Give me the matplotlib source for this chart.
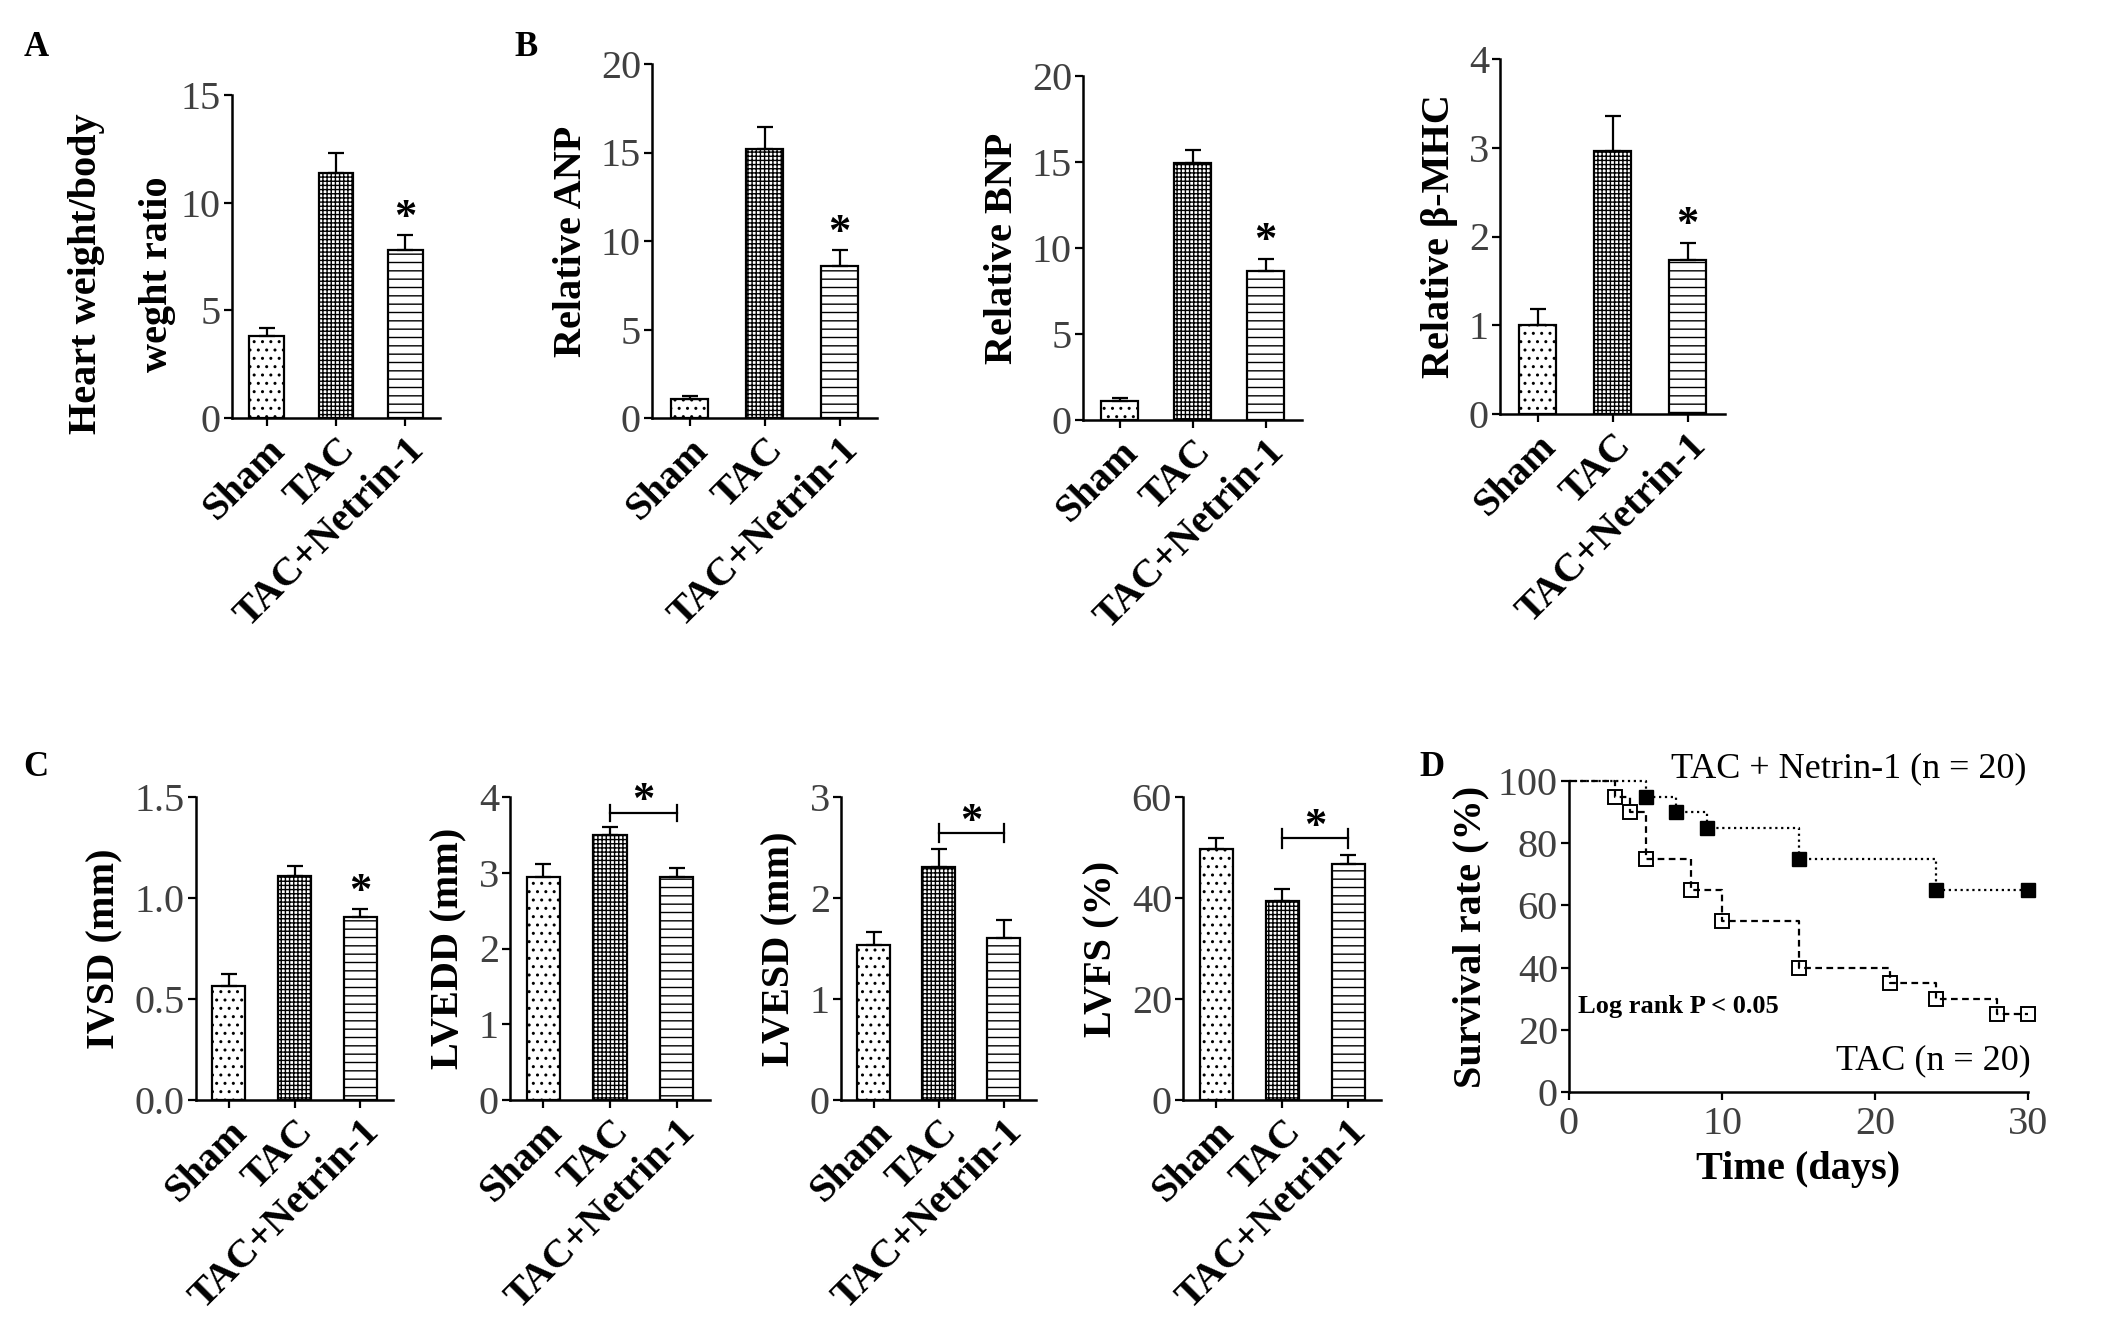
import matplotlib
matplotlib.use('Agg')
import matplotlib.pyplot as plt
import numpy as np

plt.rcParams['font.family'] = ['Liberation Serif', 'DejaVu Serif']
plt.rcParams['hatch.linewidth'] = 1.0

groups = ['Sham', 'TAC', 'TAC+Netrin-1']

# panel A
hw_mean = [3.83, 11.39, 7.81]
hw_sem = [0.33, 0.93, 0.69]
# panel B
anp_mean = [1.09, 15.17, 8.56]
anp_sem = [0.17, 1.26, 0.93]
bnp_mean = [1.10, 14.96, 8.69]
bnp_sem = [0.20, 0.76, 0.69]
mhc_mean = [1.00, 2.96, 1.73]
mhc_sem = [0.18, 0.40, 0.20]
# panel C
ivsd_mean = [0.564, 1.109, 0.904]
ivsd_sem = [0.059, 0.051, 0.041]
lvedd_mean = [2.94, 3.50, 2.94]
lvedd_sem = [0.18, 0.11, 0.12]
lvesd_mean = [1.53, 2.31, 1.60]
lvesd_sem = [0.13, 0.18, 0.18]
lvfs_mean = [49.8, 39.5, 46.8]
lvfs_sem = [2.0, 2.3, 1.7]
# panel D (Kaplan-Meier)
net_days = [0, 5, 7, 9, 15, 24, 30]
net_surv = [100, 95, 90, 85, 75, 65, 65]
tac_days = [0, 3, 4, 5, 8, 10, 15, 21, 24, 28, 30]
tac_surv = [100, 95, 90, 75, 65, 55, 40, 35, 30, 25, 25]

W, H = 2126, 1323
fig = plt.figure(figsize=(W / 100, H / 100), dpi=100)

hatches = ['..', '++++', '--']
TICK_FS = 29
XLAB_FS = 29
LAB_FS = 29


def px_axes(l, t, r, b):
    return fig.add_axes([l / W, 1 - b / H, (r - l) / W, (b - t) / H])


def style(ax):
    for s in ['top', 'right']:
        ax.spines[s].set_visible(False)
    for s in ['left', 'bottom']:
        ax.spines[s].set_linewidth(1.8)
    ax.tick_params(axis='both', direction='out', width=1.6, length=6)
    ax.tick_params(axis='y', labelsize=TICK_FS, labelcolor='0.25', pad=2)


def bars(ax, mean, sem, yticks, ylabel, ylabels=None, star=False, bracket=None, labelpad=8):
    x = np.arange(len(groups))
    for i in range(len(groups)):
        ax.bar(x[i], mean[i], width=0.5, color='white', edgecolor='black',
               linewidth=1.6, hatch=hatches[i], zorder=2)
    ax.errorbar(x, mean, yerr=[np.zeros(len(sem)), sem], fmt='none', ecolor='black',
                elinewidth=1.6, capsize=5.5, capthick=1.6, zorder=3)
    ax.set_xlim(-0.5, 2.5)
    ax.set_ylim(0, yticks[-1])
    ax.set_yticks(yticks)
    if ylabels is not None:
        ax.set_yticklabels(ylabels)
    ax.set_xticks(x)
    ax.set_xticklabels(groups, rotation=45, ha='right', rotation_mode='anchor',
                       fontsize=XLAB_FS, fontweight='bold')
    if ylabel:
        ax.set_ylabel(ylabel, fontsize=LAB_FS, fontweight='bold', labelpad=labelpad)
    style(ax)
    if star:
        ax.annotate('*', xy=(2, mean[2] + sem[2]), xytext=(0, -2), textcoords='offset points',
                    ha='center', va='bottom', fontsize=32, fontweight='bold',
                    annotation_clip=False)
    if bracket is not None:
        yb, tk = bracket
        ax.plot([1, 2], [yb, yb], color='black', lw=1.6, clip_on=False)
        for xx in [1, 2]:
            ax.plot([xx, xx], [yb - tk, yb + tk], color='black', lw=1.6, clip_on=False)
        ax.annotate('*', xy=(1.5, yb), xytext=(0, -6), textcoords='offset points',
                    ha='center', va='bottom', fontsize=32, fontweight='bold',
                    annotation_clip=False)


# A
axA = px_axes(232, 95, 440, 418)
bars(axA, hw_mean, hw_sem, [0, 5, 10, 15], None, star=True)
fig.text(87 / W, 1 - 274 / H, 'Heart weight/body', rotation=90, ha='center', va='center',
         fontsize=LAB_FS, fontweight='bold')
fig.text(158 / W, 1 - 274 / H, 'weght ratio', rotation=90, ha='center', va='center',
         fontsize=LAB_FS, fontweight='bold')

# B
axB1 = px_axes(652, 64, 877, 418)
bars(axB1, anp_mean, anp_sem, [0, 5, 10, 15, 20], 'Relative ANP', star=True)
axB2 = px_axes(1083, 76, 1302, 420)
bars(axB2, bnp_mean, bnp_sem, [0, 5, 10, 15, 20], 'Relative BNP', star=True)
axB3 = px_axes(1500, 59, 1725, 414)
bars(axB3, mhc_mean, mhc_sem, [0, 1, 2, 3, 4], 'Relative \u03b2-MHC', star=True)

# C
axC1 = px_axes(196, 797, 393, 1100)
bars(axC1, ivsd_mean, ivsd_sem, [0, 0.5, 1.0, 1.5], 'IVSD (mm)',
     ylabels=['0.0', '0.5', '1.0', '1.5'], star=True)
axC2 = px_axes(510, 797, 710, 1100)
bars(axC2, lvedd_mean, lvedd_sem, [0, 1, 2, 3, 4], 'LVEDD (mm)', bracket=(3.79, 0.11))
axC3 = px_axes(841, 797, 1036, 1100)
bars(axC3, lvesd_mean, lvesd_sem, [0, 1, 2, 3], 'LVESD (mm)', bracket=(2.64, 0.09))
axC4 = px_axes(1183, 797, 1381, 1100)
bars(axC4, lvfs_mean, lvfs_sem, [0, 20, 40, 60], 'LVFS (%)', bracket=(51.8, 1.8))

# D
axD = px_axes(1569, 781, 2028, 1092)
axD.step(net_days, net_surv, where='post', color='black', lw=1.6, ls=':', clip_on=False)
axD.plot(net_days[1:], net_surv[1:], ls='none', marker='s', ms=10, mfc='black',
         mec='black', clip_on=False, zorder=4)
axD.step(tac_days, tac_surv, where='post', color='black', lw=1.6, ls=(0, (3, 2)), clip_on=False)
axD.plot(tac_days[1:], tac_surv[1:], ls='none', marker='s', ms=10, mfc='none',
         mec='black', mew=1.4, clip_on=False, zorder=4)
axD.set_xlim(0, 30)
axD.set_ylim(0, 100)
axD.set_xticks([0, 10, 20, 30])
axD.set_yticks([0, 20, 40, 60, 80, 100])
style(axD)
axD.tick_params(axis='x', labelsize=TICK_FS, labelcolor='0.25', pad=4)
axD.set_xlabel('Time (days)', fontsize=LAB_FS, fontweight='bold', labelpad=6)
axD.set_ylabel('Survival rate (%)', fontsize=LAB_FS, fontweight='bold', labelpad=6)
axD.text(18.3, 104, 'TAC + Netrin-1 (n = 20)', ha='center', va='center', fontsize=26)
axD.text(30.2, 10, 'TAC (n = 20)', ha='right', va='center', fontsize=26)
axD.text(0.6, 27.5, 'Log rank P < 0.05', ha='left', va='center', fontsize=19, fontweight='bold')

# panel letters
for lab, (px, py) in {'A': (36, 48), 'B': (526, 47), 'C': (36, 768), 'D': (1432, 768)}.items():
    fig.text(px / W, 1 - py / H, lab, fontsize=25, fontweight='bold', ha='center', va='center')

fig.savefig('out.png', dpi=100, facecolor='white')
